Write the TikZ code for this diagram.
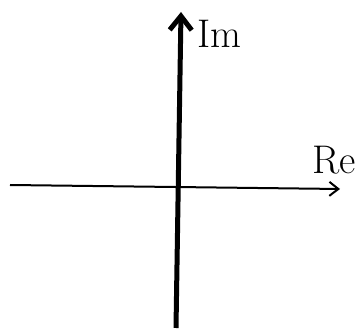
\documentclass[tikz,border=0pt]{standalone}
\usetikzlibrary{arrows.meta}
\begin{document}
\begin{tikzpicture}[x=1pt, y=-1pt, >={Straight Barb[length=9pt,width=14pt]},
    osa/.style={font=\fontsize{40}{42}\selectfont}]

    \useasboundingbox (0,0) rectangle (357,331);

    % Konce os
    \coordinate (reL) at (10,185);
    \coordinate (reR) at (340,189);
    \coordinate (imD) at (176,328);
    \coordinate (imU) at (181,12);

    % Osy
    \draw[->, line width=2pt] (reL) -- (reR);
    \draw[->, line width=5pt, >={Straight Barb[length=14pt,width=22pt]}] (imD) -- (imU);

    % Popisky
    \node[osa, anchor=west, inner sep=0pt] (im) at (197,34) {Im};
    \node[osa, anchor=center, inner sep=0pt] (re) at (334,160) {Re};

\end{tikzpicture}
\end{document}
